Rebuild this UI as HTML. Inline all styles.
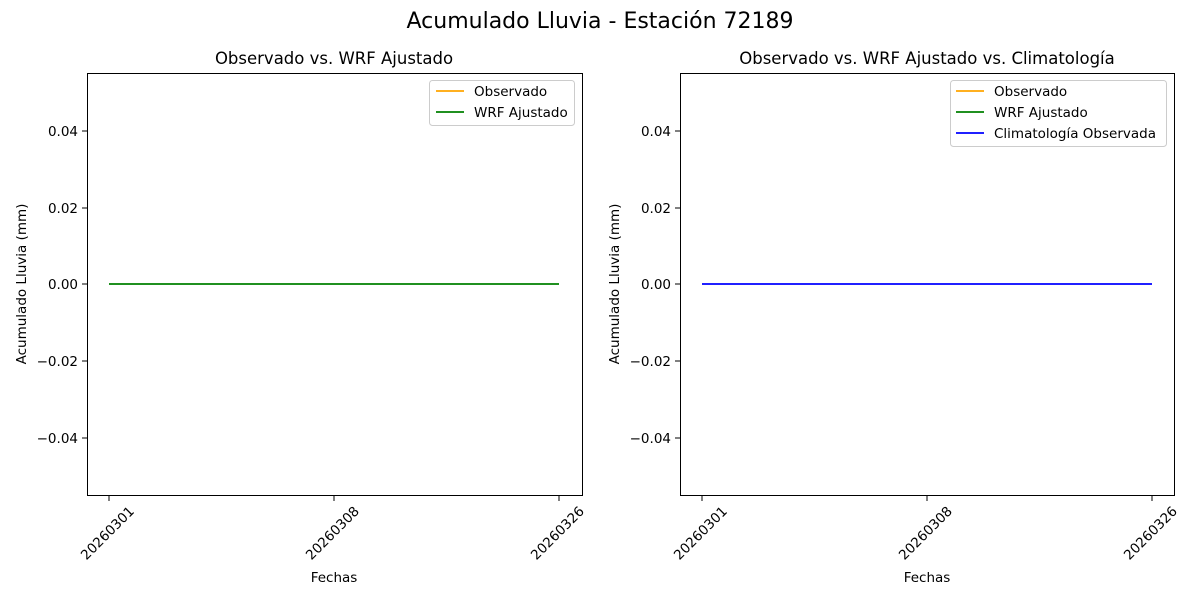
<!DOCTYPE html>
<html><head><meta charset="utf-8"><style>body{margin:0;background:#fff}svg{display:block}</style></head>
<body>
<svg width="1200" height="600" xmlns="http://www.w3.org/2000/svg" font-family="DejaVu Sans, Liberation Sans, sans-serif">
<rect width="1200" height="600" fill="#fff"/>
<text x="600" y="28" font-size="22" text-anchor="middle">Acumulado Lluvia - Estación 72189</text>

<!-- Left -->
<g>
<text x="334" y="64" font-size="16.5" text-anchor="middle">Observado vs. WRF Ajustado</text>
<line x1="109" y1="284" x2="559" y2="284" stroke="green" stroke-width="1.7"/>
<rect x="87.5" y="73.5" width="495" height="422" fill="none" stroke="#000" stroke-width="1"/>
<g font-size="13.5" text-anchor="end">
<line x1="82" y1="131" x2="87" y2="131" stroke="#000"/><text x="78" y="136">0.04</text>
<line x1="82" y1="208" x2="87" y2="208" stroke="#000"/><text x="78" y="213">0.02</text>
<line x1="82" y1="284" x2="87" y2="284" stroke="#000"/><text x="78" y="289">0.00</text>
<line x1="82" y1="361" x2="87" y2="361" stroke="#000"/><text x="78" y="366">−0.02</text>
<line x1="82" y1="438" x2="87" y2="438" stroke="#000"/><text x="78" y="443">−0.04</text>
</g>
<g font-size="13.5" text-anchor="end">
<line x1="109" y1="496" x2="109" y2="501" stroke="#000"/><text transform="translate(135,512) rotate(-45)">20260301</text>
<line x1="334" y1="496" x2="334" y2="501" stroke="#000"/><text transform="translate(360,512) rotate(-45)">20260308</text>
<line x1="559" y1="496" x2="559" y2="501" stroke="#000"/><text transform="translate(585,512) rotate(-45)">20260326</text>
</g>
<text x="334" y="582" font-size="13.5" text-anchor="middle">Fechas</text>
<text transform="translate(26,284) rotate(-90)" font-size="13.5" text-anchor="middle">Acumulado Lluvia (mm)</text>
<rect x="429.5" y="80.5" width="145" height="45" rx="3" fill="#fff" stroke="#ccc"/>
<line x1="436" y1="91" x2="464" y2="91" stroke="orange" stroke-width="1.7"/><text x="474" y="96" font-size="13.5">Observado</text>
<line x1="436" y1="112" x2="464" y2="112" stroke="green" stroke-width="1.7"/><text x="474" y="117" font-size="13.5">WRF Ajustado</text>
</g>

<!-- Right -->
<g>
<text x="927" y="64" font-size="16.5" text-anchor="middle">Observado vs. WRF Ajustado vs. Climatología</text>
<line x1="702" y1="284" x2="1152" y2="284" stroke="blue" stroke-width="1.7"/>
<rect x="680.5" y="73.5" width="494" height="422" fill="none" stroke="#000" stroke-width="1"/>
<g font-size="13.5" text-anchor="end">
<line x1="675" y1="131" x2="680" y2="131" stroke="#000"/><text x="671" y="136">0.04</text>
<line x1="675" y1="208" x2="680" y2="208" stroke="#000"/><text x="671" y="213">0.02</text>
<line x1="675" y1="284" x2="680" y2="284" stroke="#000"/><text x="671" y="289">0.00</text>
<line x1="675" y1="361" x2="680" y2="361" stroke="#000"/><text x="671" y="366">−0.02</text>
<line x1="675" y1="438" x2="680" y2="438" stroke="#000"/><text x="671" y="443">−0.04</text>
</g>
<g font-size="13.5" text-anchor="end">
<line x1="702" y1="496" x2="702" y2="501" stroke="#000"/><text transform="translate(728,512) rotate(-45)">20260301</text>
<line x1="927" y1="496" x2="927" y2="501" stroke="#000"/><text transform="translate(953,512) rotate(-45)">20260308</text>
<line x1="1152" y1="496" x2="1152" y2="501" stroke="#000"/><text transform="translate(1178,512) rotate(-45)">20260326</text>
</g>
<text x="927" y="582" font-size="13.5" text-anchor="middle">Fechas</text>
<text transform="translate(619,284) rotate(-90)" font-size="13.5" text-anchor="middle">Acumulado Lluvia (mm)</text>
<rect x="950.5" y="80.5" width="216" height="66" rx="3" fill="#fff" stroke="#ccc"/>
<line x1="956" y1="91" x2="984" y2="91" stroke="orange" stroke-width="1.7"/><text x="994" y="96" font-size="13.5">Observado</text>
<line x1="956" y1="112" x2="984" y2="112" stroke="green" stroke-width="1.7"/><text x="994" y="117" font-size="13.5">WRF Ajustado</text>
<line x1="956" y1="133" x2="984" y2="133" stroke="blue" stroke-width="1.7"/><text x="994" y="138" font-size="13.5">Climatología Observada</text>
</g>
</svg>
</body></html>
